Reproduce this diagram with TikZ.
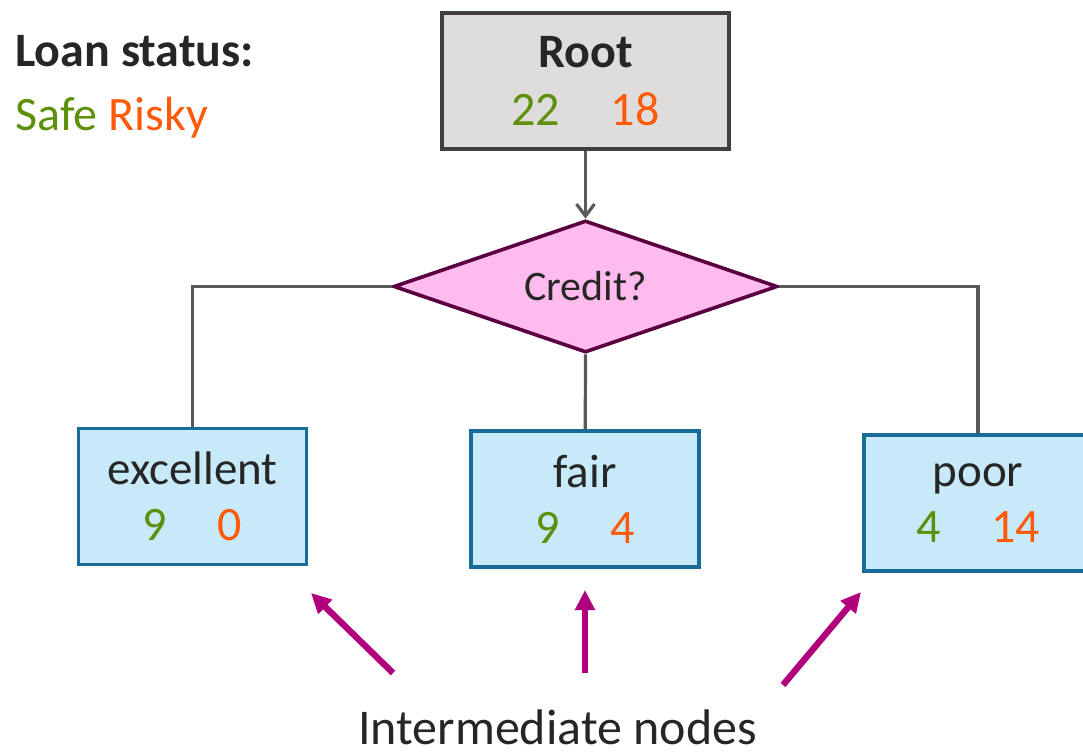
\documentclass[tikz,border=0pt]{standalone}
\usepackage{fontspec}
\setmainfont{Carlito}
\usepackage{tikz}
\usetikzlibrary{shapes,shapes.geometric}
\usetikzlibrary{arrows,arrows.meta}
\definecolor{safegreen}{HTML}{5E8F0B}
\definecolor{riskyorange}{HTML}{FF5A0A}
\definecolor{rootgray}{HTML}{DEDDDC}
\definecolor{rootline}{HTML}{423E3F}
\definecolor{creditpink}{HTML}{FFBBEE}
\definecolor{creditline}{HTML}{5A0041}
\definecolor{leafblue}{HTML}{C7E9F8}
\definecolor{leafline}{HTML}{176D98}
\definecolor{linkgray}{HTML}{595959}
\definecolor{notemagenta}{HTML}{B0007E}
\definecolor{textdark}{HTML}{262626}
\newcommand{\splitcounts}[2]{{\color{safegreen}#1}\hspace{1.05em}{\color{riskyorange}#2}}

\begin{document}
\begin{tikzpicture}[x=50pt,y=50pt,
	every node/.style={text=textdark},
	rootbox/.style={draw=rootline,fill=rootgray,line width=2pt,minimum width=143.5pt,minimum height=68pt,align=center,inner sep=0pt,font=\fontsize{24}{29}\selectfont},
	leafbox/.style={draw=leafline,fill=leafblue,line width=1.7pt,minimum width=114pt,minimum height=68pt,align=center,inner sep=0pt,font=\fontsize{24}{28}\selectfont},
	test/.style={diamond,draw=creditline,fill=creditpink,line width=1.8pt,minimum width=192pt,minimum height=66pt,aspect=2.9,inner sep=0pt,font=\fontsize{21}{25}\selectfont},
	link/.style={draw=linkgray,line width=1.6pt},
	pointer/.style={draw=notemagenta,line width=3.2pt,-{Triangle[length=10pt,width=9.5pt]}}]
	\useasboundingbox (0,0) rectangle (10.83,-7.55);
	
	\node[anchor=base west,inner sep=0pt,font=\fontsize{24}{29}\selectfont\bfseries] (status) at (0.15,-0.67) {Loan status:};
	\node[anchor=base west,inner sep=0pt,font=\fontsize{24}{29}\selectfont] (classes) at (0.15,-1.30) {{\color{safegreen}Safe} {\color{riskyorange}Risky}};
	
	\node[rootbox] (root) at (5.855,-0.81) {{\bfseries Root}\\\splitcounts{22}{18}};
	\node[test] (credit) at (5.855,-2.865) {Credit?};
	
	\node[leafbox] (excellent) at (1.925,-4.965) {{\fontsize{23.5}{28}\selectfont excellent}\\\splitcounts{9}{0}};
	\node[leafbox] (fair) at (5.85,-4.99) {{\fontsize{23.5}{28}\selectfont fair}\\\splitcounts{9}{4}};
	\node[leafbox] (poor) at (9.78,-5.03) {{\fontsize{23.5}{28}\selectfont poor}\\\splitcounts{4}{14}};
	
	\draw[link,-{Straight Barb[length=6pt,width=9pt]}] (root) -- (credit);
	\draw[link] (credit.west) -| (excellent);
	\draw[link] (credit.south) -- (fair);
	\draw[link] (credit.east) -| (poor);
	
	% arrows to the intermediate nodes
	\coordinate (tailA) at (3.93,-6.73);
	\coordinate (tipA) at (3.11,-5.93);
	\coordinate (tailB) at (5.85,-6.73);
	\coordinate (tipB) at (5.85,-5.90);
	\coordinate (tailC) at (7.83,-6.85);
	\coordinate (tipC) at (8.61,-5.92);
	\draw[pointer] (tailA) -- (tipA);
	\draw[pointer] (tailB) -- (tipB);
	\draw[pointer] (tailC) -- (tipC);
	\node[anchor=base,inner sep=0pt,font=\fontsize{25}{30}\selectfont] (caption) at (5.575,-7.44) {Intermediate nodes};
\end{tikzpicture}
\end{document}
